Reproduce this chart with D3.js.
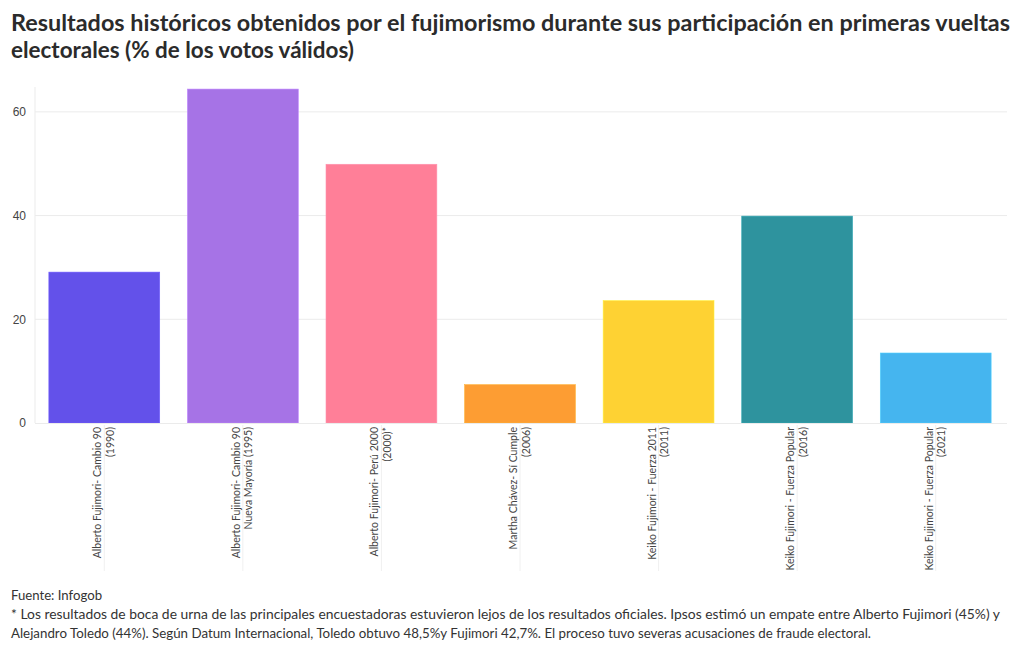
<!DOCTYPE html>
<html>
<head>
<meta charset="utf-8">
<script src="https://cdn.jsdelivr.net/npm/d3@7"></script>
<style>
  html, body { margin: 0; padding: 0; background: #fff; }
  svg { display: block; font-family: "Source Sans Pro", Lato, "Noto Sans", sans-serif; }
</style>
</head>
<body>
<svg id="chart" width="1020" height="650"></svg>
<script>
// ---- Data ----
const categoriesLine1 = [
  "Alberto Fujimori- Cambio 90",
  "Alberto Fujimori- Cambio 90",
  "Alberto Fujimori- Perú 2000",
  "Martha Chávez- Sí Cumple",
  "Keiko Fujimori - Fuerza 2011",
  "Keiko Fujimori - Fuerza Popular",
  "Keiko Fujimori - Fuerza Popular"
];
const categoriesLine2 = [
  "(1990)",
  "Nueva Mayoría (1995)",
  "(2000)*",
  "(2006)",
  "(2011)",
  "(2016)",
  "(2021)"
];
const values = [29.1, 64.4, 49.9, 7.4, 23.6, 39.9, 13.5];
const colors = ["#6351ea", "#a673e6", "#ff7f98", "#fd9d33", "#fed233", "#2e939e", "#45b5ef"];
const yTicks = [0, 20, 40, 60];
const titleLines = [
  "Resultados históricos obtenidos por el fujimorismo durante sus participación en primeras vueltas",
  "electorales (% de los votos válidos)"
];
const footLines = [
  "Fuente: Infogob",
  "* Los resultados de boca de urna de las principales encuestadoras estuvieron lejos de los resultados oficiales. Ipsos estimó un empate entre Alberto Fujimori (45%) y",
  "Alejandro Toledo (44%). Según Datum Internacional, Toledo obtuvo 48,5%y Fujimori 42,7%. El proceso tuvo severas acusaciones de fraude electoral."
];

// ---- Layout ----
const svg = d3.select("#chart");
const plot = { left: 35, right: 1005, top: 87, bottom: 423 };
const idx = values.map((d, i) => i);

const x = d3.scaleBand().domain(idx).range([plot.left, plot.right]).paddingInner(0.2).paddingOuter(0.1);
const y = d3.scaleLinear().domain([0, 64.8]).range([plot.bottom, plot.top]);

// gridlines
svg.append("g").selectAll("line").data(yTicks.filter(t => t > 0)).join("line")
  .attr("x1", plot.left).attr("x2", plot.right + 2)
  .attr("y1", d => y(d)).attr("y2", d => y(d))
  .attr("stroke", "#ebebeb").attr("stroke-width", 1);

// left axis line
svg.append("line").attr("x1", plot.left).attr("x2", plot.left)
  .attr("y1", plot.top).attr("y2", plot.bottom)
  .attr("stroke", "#ebebeb");

// faint vertical lines below axis at category centers
svg.append("g").selectAll("line").data(idx).join("line")
  .attr("x1", d => x(d) + x.bandwidth() / 2).attr("x2", d => x(d) + x.bandwidth() / 2)
  .attr("y1", plot.bottom + 2).attr("y2", 571)
  .attr("stroke", "#f0f0f0");

// bars
svg.append("g").selectAll("rect").data(idx).join("rect")
  .attr("x", d => x(d)).attr("width", x.bandwidth())
  .attr("y", d => y(values[d])).attr("height", d => y(0) - y(values[d]))
  .attr("fill", d => colors[d])
  .attr("stroke", d => d3.color(colors[d]).brighter(0.4))
  .attr("stroke-width", 0.6);

// zero line
svg.append("line").attr("x1", plot.left).attr("x2", plot.right + 2)
  .attr("y1", plot.bottom + 0.5).attr("y2", plot.bottom + 0.5)
  .attr("stroke", "#ebebeb");

// y axis
const yAxis = d3.axisLeft(y).tickValues(yTicks).tickSize(0).tickPadding(9);
const ya = svg.append("g").attr("transform", `translate(${plot.left},0)`).call(yAxis);
ya.select(".domain").remove();
ya.selectAll("text").attr("font-size", 12).attr("fill", "#444").attr("font-family", "inherit");

// x labels (rotated)
const xl = svg.append("g");
idx.forEach(i => {
  const cx = x(i) + x.bandwidth() / 2;
  const g = xl.append("g").attr("transform", `translate(${cx},${plot.bottom + 4}) rotate(-90)`);
  g.append("text").attr("x", 0).attr("y", -3)
    .attr("text-anchor", "end").attr("font-size", 10.5).attr("fill", "#444")
    .text(categoriesLine1[i]);
  g.append("text").attr("x", 0).attr("y", 9.5)
    .attr("text-anchor", "end").attr("font-size", 10.5).attr("fill", "#444")
    .text(categoriesLine2[i]);
});

// title
svg.append("text").attr("x", 11).attr("y", 31)
  .attr("font-size", 22.5).attr("font-weight", 700).attr("fill", "#2b2b2b")
  .attr("textLength", 999).attr("lengthAdjust", "spacingAndGlyphs")
  .text(titleLines[0]);
svg.append("text").attr("x", 11).attr("y", 58)
  .attr("font-size", 22.5).attr("font-weight", 700).attr("fill", "#2b2b2b")
  .attr("textLength", 343).attr("lengthAdjust", "spacingAndGlyphs")
  .text(titleLines[1]);

// footer
const footY = [600, 619, 638];
const footW = [91, 989, 860];
footLines.forEach((s, i) => {
  svg.append("text").attr("x", 11).attr("y", footY[i])
    .attr("font-size", 13).attr("fill", "#333")
    .attr("textLength", footW[i]).attr("lengthAdjust", "spacingAndGlyphs")
    .text(s);
});
</script>
</body>
</html>
